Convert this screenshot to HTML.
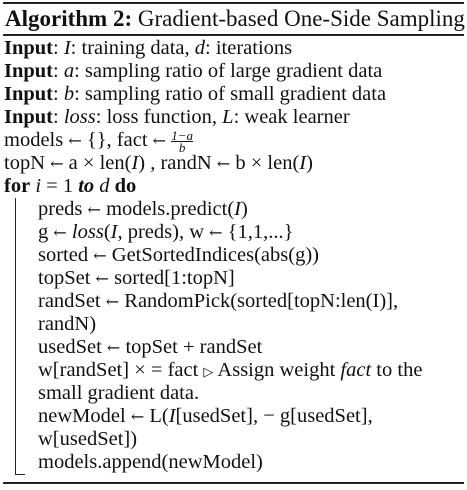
<!DOCTYPE html>
<html><head><style>
body{margin:0;width:467px;height:490px;background:#fff;position:relative;font-family:"Liberation Serif",serif;color:#111;overflow:hidden}
.r{position:absolute;left:3px;width:461px;background:#222}
.l{position:absolute;white-space:nowrap;font-size:20.5px;line-height:23px}
i{font-style:italic}
.a{font-family:"DejaVu Serif",serif;font-size:16px}
</style></head><body>
<div class="r" style="top:2px;height:2px"></div>
<div class="l" style="top:5px;left:5px;font-size:23px;line-height:28px"><b>Algorithm 2:</b> Gradient-based One-Side Sampling</div>
<div class="r" style="top:34px;height:2px"></div>
<div class="l" style="top:37px;left:4px"><b>Input</b>: <i>I</i>: training data, <i>d</i>: iterations</div>
<div class="l" style="top:60px;left:4px"><b>Input</b>: <i>a</i>: sampling ratio of large gradient data</div>
<div class="l" style="top:83px;left:4px"><b>Input</b>: <i>b</i>: sampling ratio of small gradient data</div>
<div class="l" style="top:106px;left:4px"><b>Input</b>: <i>loss</i>: loss function, <i>L</i>: weak learner</div>
<div class="l" style="top:129px;left:4px">models <span class="a">←</span> {}, fact <span class="a">←</span> <span style="display:inline-block;vertical-align:middle;font-size:13px;line-height:11px;text-align:center"><i style="border-bottom:1px solid #111;display:block">1−a</i><i>b</i></span></div>
<div class="l" style="top:152px;left:4px">topN <span class="a">←</span> a × len(<i>I</i>) , randN <span class="a">←</span> b × len(<i>I</i>)</div>
<div class="l" style="top:175px;left:4px"><b>for</b> <i>i</i> = 1 <b><i>to</i></b> <i>d</i> <b>do</b></div>
<div style="position:absolute;left:15px;top:198px;width:1px;height:277px;background:#222"></div>
<div style="position:absolute;left:15px;top:474px;width:10px;height:1px;background:#222"></div>
<div class="l" style="top:198px;left:38px">preds <span class="a">←</span> models.predict(<i>I</i>)</div>
<div class="l" style="top:221px;left:38px">g <span class="a">←</span> <i>loss</i>(<i>I</i>, preds), w <span class="a">←</span> {1,1,...}</div>
<div class="l" style="top:244px;left:38px">sorted <span class="a">←</span> GetSortedIndices(abs(g))</div>
<div class="l" style="top:267px;left:38px">topSet <span class="a">←</span> sorted[1:topN]</div>
<div class="l" style="top:290px;left:38px">randSet <span class="a">←</span> RandomPick(sorted[topN:len(I)],</div>
<div class="l" style="top:313px;left:38px">randN)</div>
<div class="l" style="top:336px;left:38px">usedSet <span class="a">←</span> topSet + randSet</div>
<div class="l" style="top:359px;left:38px">w[randSet] × = fact <span style="font-size:13px">▷</span> Assign weight <i>fact</i> to the</div>
<div class="l" style="top:382px;left:38px">small gradient data.</div>
<div class="l" style="top:405px;left:38px">newModel <span class="a">←</span> L(<i>I</i>[usedSet], − g[usedSet],</div>
<div class="l" style="top:428px;left:38px">w[usedSet])</div>
<div class="l" style="top:451px;left:38px">models.append(newModel)</div>
<div class="r" style="top:482px;height:2px"></div>
</body></html>
